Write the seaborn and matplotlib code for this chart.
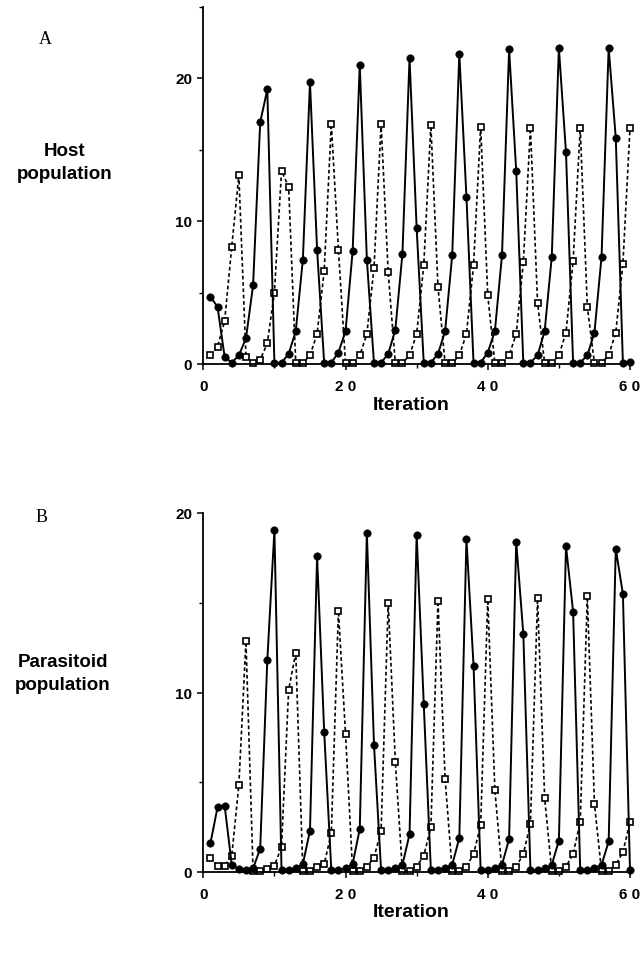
import numpy as np
import pandas as pd
import matplotlib
matplotlib.use("Agg")
import matplotlib.pyplot as plt
import seaborn as sns

iterations = list(range(1, 61))

host_circles = [4.7, 4.0, 0.5, 0.1, 0.6, 1.8, 5.5, 16.9, 19.2, 0.05,
                0.1, 0.7, 2.3, 7.3, 19.7, 8.0, 0.05, 0.1, 0.8, 2.3,
                7.9, 20.9, 7.3, 0.05, 0.1, 0.7, 2.4, 7.7, 21.4, 9.5,
                0.05, 0.1, 0.7, 2.3, 7.6, 21.7, 11.7, 0.05, 0.1, 0.8,
                2.3, 7.6, 22.0, 13.5, 0.05, 0.1, 0.6, 2.3, 7.5, 22.1,
                14.8, 0.05, 0.1, 0.6, 2.2, 7.5, 22.1, 15.8, 0.1, 0.15]

host_squares = [0.6, 1.2, 3.0, 8.2, 13.2, 0.5, 0.1, 0.3, 1.45, 5.0,
                13.5, 12.4, 0.05, 0.07, 0.6, 2.1, 6.5, 16.8, 8.0, 0.05,
                0.07, 0.6, 2.1, 6.7, 16.8, 6.4, 0.05, 0.07, 0.6, 2.1,
                6.9, 16.7, 5.4, 0.05, 0.07, 0.6, 2.1, 6.9, 16.6, 4.8,
                0.05, 0.07, 0.6, 2.1, 7.1, 16.5, 4.3, 0.05, 0.07, 0.6,
                2.2, 7.2, 16.5, 4.0, 0.05, 0.07, 0.6, 2.2, 7.0, 16.5]

para_circles = [1.6, 3.6, 3.7, 0.4, 0.15, 0.1, 0.2, 1.3, 11.8, 19.05,
                0.1, 0.1, 0.2, 0.45, 2.3, 17.6, 7.8, 0.1, 0.1, 0.2,
                0.45, 2.4, 18.9, 7.1, 0.1, 0.1, 0.2, 0.4, 2.1, 18.8,
                9.35, 0.1, 0.1, 0.2, 0.4, 1.9, 18.55, 11.5, 0.1, 0.1,
                0.2, 0.4, 1.84, 18.4, 13.25, 0.1, 0.1, 0.2, 0.4, 1.75,
                18.15, 14.5, 0.1, 0.1, 0.2, 0.4, 1.7, 18.0, 15.5, 0.1]

para_squares = [0.8, 0.35, 0.35, 0.9, 4.85, 12.85, 0.05, 0.05, 0.15, 0.35,
                1.4, 10.15, 12.2, 0.05, 0.05, 0.3, 0.45, 2.15, 14.55, 7.7,
                0.05, 0.05, 0.3, 0.8, 2.3, 15.0, 6.15, 0.05, 0.05, 0.3,
                0.9, 2.5, 15.1, 5.2, 0.05, 0.05, 0.3, 1.0, 2.6, 15.2,
                4.55, 0.05, 0.05, 0.3, 1.0, 2.7, 15.25, 4.1, 0.05, 0.05,
                0.3, 1.0, 2.8, 15.35, 3.8, 0.05, 0.05, 0.4, 1.1, 2.8]

x_ticks = [0, 20, 40, 60]
x_tick_labels = ["0", "2 0", "4 0", "6 0"]
panel_labels = ["A", "B"]
y_labels = ["Host\npopulation", "Parasitoid\npopulation"]
x_label = "Iteration"

sns.set_style("ticks")
plt.rcParams["font.family"] = ["Liberation Sans", "DejaVu Sans"]
plt.rcParams["text.color"] = "black"
plt.rcParams["axes.labelcolor"] = "black"
plt.rcParams["xtick.color"] = "black"
plt.rcParams["ytick.color"] = "black"

fig = plt.figure(figsize=(6.44, 9.54), dpi=100)
W, H = 644, 954


def add_axes(left, top, right, bottom):
    return fig.add_axes([left / W, 1 - bottom / H, (right - left) / W, (bottom - top) / H])


axA = add_axes(203.3, 7.5, 630, 365)
axB = add_axes(203.3, 514, 630, 873)

panels = [
    (axA, host_circles, host_squares, 25, [0, 10, 20], [5, 15, 25]),
    (axB, para_circles, para_squares, 20, [0, 10, 20], [5, 15]),
]

for ax, circ, sq, ytop, yt, ymin in panels:
    df = pd.DataFrame({"iteration": iterations, "circles": circ, "squares": sq})
    sns.lineplot(data=df, x="iteration", y="squares", ax=ax, color="black",
                 linestyle=(0, (2.2, 1.6)), linewidth=1.2, marker="s",
                 markersize=5, markerfacecolor="white", markeredgecolor="black",
                 markeredgewidth=1.2, clip_on=False, errorbar=None)
    sns.lineplot(data=df, x="iteration", y="circles", ax=ax, color="black",
                 linewidth=1.4, marker="o", markersize=5.3,
                 markerfacecolor="black", markeredgecolor="black",
                 markeredgewidth=0.5, clip_on=False, errorbar=None)
    ax.set_xlim(0, 60)
    ax.set_ylim(0, ytop)
    ax.set_xticks(x_ticks)
    ax.set_xticklabels(x_tick_labels)
    ax.set_xticks([10, 30, 50], minor=True)
    ax.set_yticks(yt)
    ax.set_yticks(ymin, minor=True)
    ax.set_xlabel("")
    ax.set_ylabel("")
    ax.tick_params(axis="both", which="major", direction="out", length=4,
                   width=1.1, colors="black", labelsize=11)
    ax.tick_params(axis="both", which="minor", direction="out", length=3,
                   width=1.0, colors="black")
    ax.tick_params(axis="x", which="major", pad=7)
    ax.tick_params(axis="y", which="major", pad=4)
    for lab in ax.get_xticklabels() + ax.get_yticklabels():
        lab.set_fontweight("bold")
    for s in ["left", "bottom"]:
        ax.spines[s].set_linewidth(1.3)
        ax.spines[s].set_color("black")
    sns.despine(ax=ax)
    ax.set_facecolor("white")

# panel letters
fig.text(45 / W, 1 - 40 / H, panel_labels[0], family=["Liberation Serif"],
         fontsize=13, ha="center", va="center", color="black")
fig.text(42 / W, 1 - 518 / H, panel_labels[1], family=["Liberation Serif"],
         fontsize=13, ha="center", va="center", color="black")

# y labels
fig.text(65 / W, 1 - 163 / H, y_labels[0], fontsize=13.5, fontweight="bold",
         ha="center", va="center", multialignment="center", linespacing=1.4,
         color="black")
fig.text(63 / W, 1 - 674 / H, y_labels[1], fontsize=13.5, fontweight="bold",
         ha="center", va="center", multialignment="center", linespacing=1.4,
         color="black")

# x labels
fig.text(411 / W, 1 - 405 / H, x_label, fontsize=14, fontweight="bold",
         ha="center", va="center", color="black")
fig.text(411 / W, 1 - 913 / H, x_label, fontsize=14, fontweight="bold",
         ha="center", va="center", color="black")

fig.savefig("out.png", dpi=100, facecolor="white")
